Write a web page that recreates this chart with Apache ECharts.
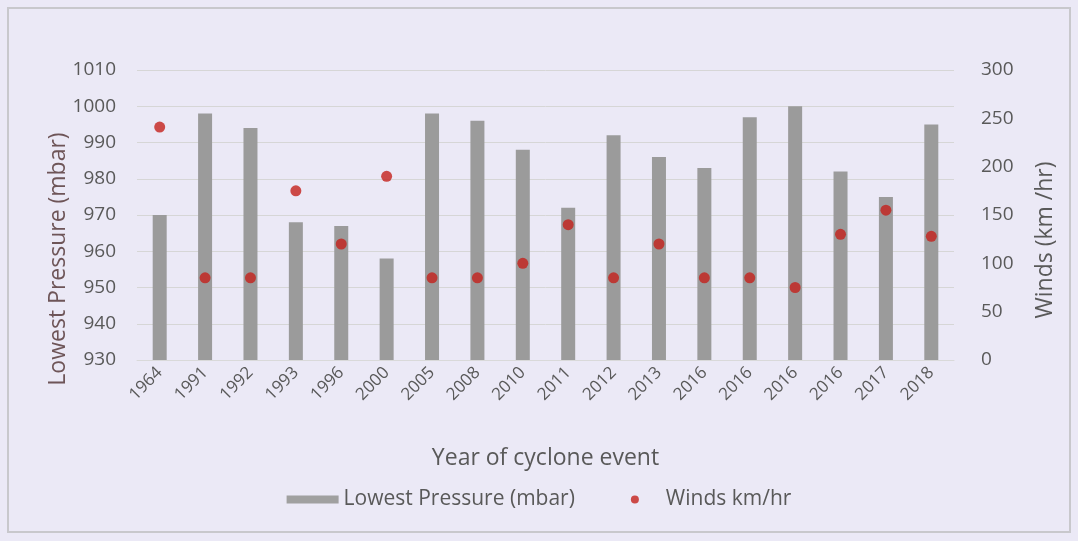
<!DOCTYPE html>
<html><head><meta charset="utf-8">
<script src="https://cdn.jsdelivr.net/npm/echarts@6/dist/echarts.min.js"></script>
<style>html,body{margin:0;padding:0;background:#ebe9f6;}#c{width:1078px;height:541px;}</style>
</head><body><div id="c"></div>
<script>
const years = ['1964','1991','1992','1993','1996','2000','2005','2008','2010','2011','2012','2013','2016','2016','2016','2016','2017','2018'];
const pressure = [970,998,994,968,967,958,998,996,988,972,992,986,983,997,1000,982,975,995];
const winds = [241,85,85,175,120,190,85,85,100,140,85,120,85,85,75,130,155,128];
const leftTicks = {min:930,max:1010,interval:10};
const rightTicks = {min:0,max:300,interval:50};

const chart = echarts.init(document.getElementById('c'));
const font = "'Open Sans', sans-serif";
const txt = '#595959';
chart.setOption({
  backgroundColor:'#ebe9f6',
  animation:false,
  textStyle:{fontFamily:font},
  graphic:[{type:'rect',shape:{x:8,y:8,width:1062,height:524},style:{fill:'none',stroke:'#c8c8cc',lineWidth:2},silent:true}],
  grid:{left:137,right:124,top:70,bottom:181},
  legend:{
    bottom:26,left:'center',itemGap:56,
    textStyle:{color:txt,fontSize:21,fontFamily:font},
    data:[{name:'Lowest Pressure (mbar)',icon:'rect',itemStyle:{color:'#a0a0a0'}},{name:'Winds km/hr',icon:'circle'}],
    itemWidth:52,itemHeight:8
  },
  xAxis:{
    type:'category',data:years,
    name:'Year of cyclone event',nameLocation:'middle',nameGap:87,
    nameTextStyle:{color:txt,fontSize:23,fontFamily:font},
    axisLine:{show:true,lineStyle:{color:'#d9d9d9'}},axisTick:{show:false},
    axisLabel:{rotate:45,color:txt,fontSize:17,fontFamily:font,margin:10,interval:0}
  },
  yAxis:[{
    type:'value',min:leftTicks.min,max:leftTicks.max,interval:leftTicks.interval,
    name:'Lowest Pressure (mbar)',nameLocation:'middle',nameGap:67,nameRotate:90,nameMoveOverlap:false,
    nameTextStyle:{color:'#6e5558',fontSize:23,fontFamily:font,padding:[0,88,0,0]},
    axisLabel:{color:txt,fontSize:19,fontFamily:font,margin:21,formatter:v=>String(v)},
    axisLine:{show:false},axisTick:{show:false},
    splitLine:{lineStyle:{color:'#d6d6d6',width:1}}
  },{
    type:'value',min:rightTicks.min,max:rightTicks.max,interval:rightTicks.interval,
    name:'Winds (km /hr)',nameLocation:'middle',nameGap:80,nameRotate:90,nameMoveOverlap:false,
    nameTextStyle:{color:txt,fontSize:23,fontFamily:font,padding:[0,50,0,0]},
    axisLabel:{color:txt,fontSize:19,fontFamily:font,margin:27},
    axisLine:{show:false},axisTick:{show:false},splitLine:{show:false}
  }],
  series:[{
    name:'Lowest Pressure (mbar)',type:'bar',data:pressure,yAxisIndex:0,
    barWidth:14,itemStyle:{color:'#9b9b9b'},clip:true
  },{
    name:'Winds km/hr',type:'scatter',data:winds,yAxisIndex:1,
    symbolSize:11,itemStyle:{color:'#c4201c'}
  }]
});
</script></body></html>
